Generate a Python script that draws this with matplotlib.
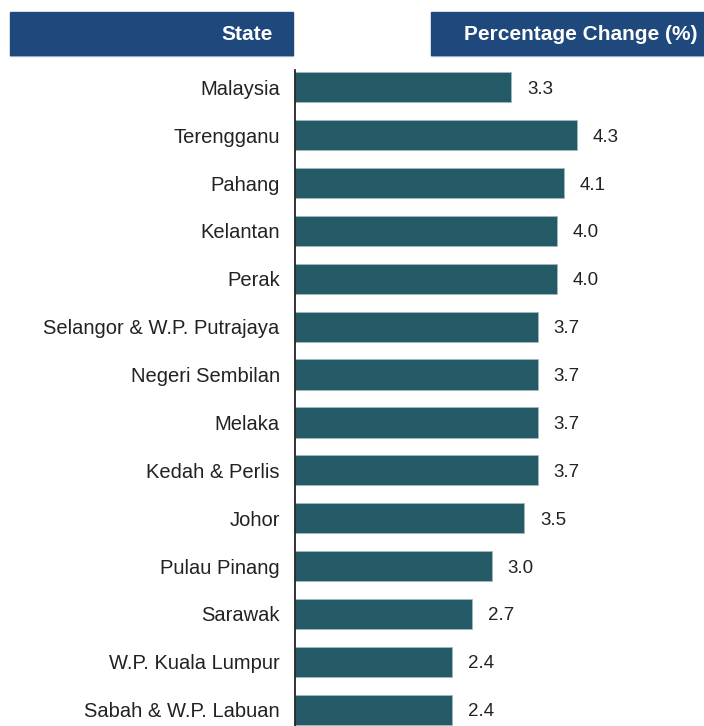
import matplotlib.pyplot as plt
from matplotlib.patches import Rectangle

plt.rcParams['font.family'] = ['Liberation Sans', 'DejaVu Sans']

# data
states = ['Malaysia', 'Terengganu', 'Pahang', 'Kelantan', 'Perak',
          'Selangor & W.P. Putrajaya', 'Negeri Sembilan', 'Melaka',
          'Kedah & Perlis', 'Johor', 'Pulau Pinang', 'Sarawak',
          'W.P. Kuala Lumpur', 'Sabah & W.P. Labuan']
change = [3.3, 4.3, 4.1, 4.0, 4.0, 3.7, 3.7, 3.7, 3.7, 3.5, 3.0, 2.7, 2.4, 2.4]

W, H = 704, 726
fig = plt.figure(figsize=(W / 100, H / 100), dpi=100)

# axes placed in pixel terms
ax_left, ax_right, ax_top, ax_bottom = 295, 704, 70, 726
ax = fig.add_axes([ax_left / W, 1 - ax_bottom / H,
                   (ax_right - ax_left) / W, (ax_bottom - ax_top) / H])

pos = list(range(len(states)))
ax.barh(pos, change, height=0.63, color='#235A66', edgecolor='#9FB8BE', linewidth=0.6)
for p, v in zip(pos, change):
    ax.text(v + 0.24, p, f'{v:.1f}', va='center_baseline', ha='left',
            fontsize=13.5, color='#222222')

ax.set_xlim(0, 6.24)
ax.set_ylim(len(states) - 1 + 0.34, -0.36)
ax.set_yticks(pos)
ax.set_yticklabels(states, fontsize=14.5, color='#222222', va='center_baseline')
ax.tick_params(axis='y', length=0, pad=11)
ax.set_xticks([])
for s in ['top', 'right', 'bottom']:
    ax.spines[s].set_visible(False)
ax.spines['left'].set_linewidth(1.2)
ax.spines['left'].set_color('#111111')

# header boxes
hdr = '#1F497D'
def header(x0, x1, label, tx):
    fig.patches.append(Rectangle((x0 / W, 1 - 56 / H), (x1 - x0) / W, 2 / H,
                                 transform=fig.transFigure, color='#B8C4D6'))
    fig.patches.append(Rectangle((x0 / W, 1 - 55 / H), (x1 - x0) / W, 43 / H,
                                 transform=fig.transFigure, color=hdr))
    fig.text(tx / W, 1 - 33 / H, label, ha='right', va='center_baseline',
             color='white', fontsize=15, fontweight='bold')

header(10, 293, 'State', 273)
header(431, 704, 'Percentage Change (%)', 697)

fig.savefig('out.png', dpi=100)
